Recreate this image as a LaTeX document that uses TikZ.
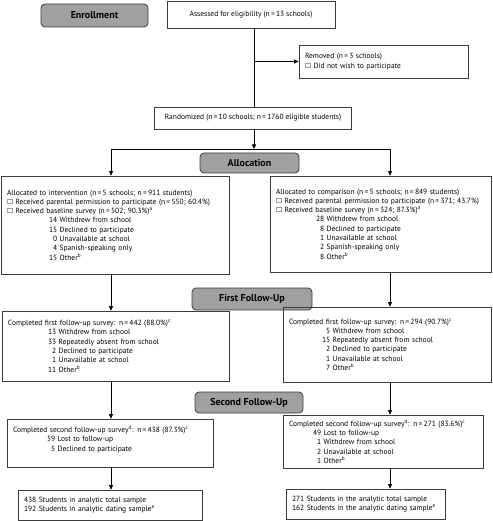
\documentclass[tikz,border=0pt]{standalone}
\usepackage{fontspec}
\setmainfont{PT Sans}
\newfontfamily\boxsym{DejaVu Sans}
\usetikzlibrary{arrows.meta}
\definecolor{stagegray}{RGB}{160,160,160}
\definecolor{edgegray}{RGB}{60,60,60}
\newcommand{\chk}{{\boxsym\fontsize{6.8}{6.8}\selectfont ☐}\ }
\newcommand{\gap}[1]{\hspace*{#1pt}}
\newcommand{\nd}{\phantom{1}}
\begin{document}
\begin{tikzpicture}[x=1pt, y=-1pt,
    infobox/.style={draw=edgegray, line width=0.7pt, align=left, inner xsep=6pt, inner ysep=2pt,
        font=\fontsize{7.5}{9.3}\selectfont},
    stage/.style={draw=edgegray, line width=0.8pt, rounded corners=4pt, fill=stagegray,
        font=\bfseries\fontsize{10}{11}\selectfont},
    arr/.style={line width=0.7pt, -{Triangle[length=4.5pt,width=4pt]}},
    link/.style={line width=0.7pt}]
    \useasboundingbox (0,0) rectangle (492,521);

    % Stage labels
    \node[stage, minimum width=107pt, minimum height=23pt] (enroll) at (94.5,15.5) {Enrollment};
    \node[stage, minimum width=99pt, minimum height=20pt] (alloc) at (249.5,163) {Allocation};
    \node[stage, minimum width=120pt, minimum height=22pt] (fu1) at (252,299) {First Follow-Up};
    \node[stage, minimum width=108pt, minimum height=21pt] (fu2) at (249,402.5) {Second Follow-Up};

    % Enrollment and randomization
    \node[infobox, align=center, minimum width=168pt, minimum height=27pt] (assess) at (251,14.5)
        {Assessed for eligibility (n\,=\,13 schools)};
    \node[infobox, text width=157pt, minimum height=33pt] (removed) at (383.5,61.5)
        {Removed (n\,=\,3 schools)\\
         \chk Did not wish to participate};
    \node[infobox, align=center, minimum width=197pt, minimum height=22pt] (rand) at (253,118)
        {Randomized (n\,=\,10 schools; n\,=\,1760 eligible students)};

    % Allocation
    \node[infobox, text width=216pt, minimum height=98pt] (intv) at (115,225)
        {Allocated to intervention (n\,=\,5 schools; n\,=\,911 students)\\
         \chk Received parental permission to participate (n\,=\,550; 60.4\%)\\
         \chk Received baseline survey (n\,=\,502; 90.3\%)\textsuperscript{a}\\
         \gap{42}14 Withdrew from school\\
         \gap{42}15 Declined to participate\\
         \gap{42}\nd0 Unavailable at school\\
         \gap{42}\nd4 Spanish-speaking only\\
         \gap{42}15 Other\textsuperscript{b}};
    \node[infobox, text width=209pt, minimum height=96pt] (comp) at (380.5,224)
        {Allocated to comparison (n\,=\,5 schools; n\,=\,849 students)\\
         \chk Received parental permission to participate (n\,=\,371; 43.7\%)\\
         \chk Received baseline survey (n\,=\,324; 87.3\%)\textsuperscript{a}\\
         \gap{40}28 Withdrew from school\\
         \gap{40}\nd8 Declined to participate\\
         \gap{40}\nd1 Unavailable at school\\
         \gap{40}\nd2 Spanish-speaking only\\
         \gap{40}\nd8 Other\textsuperscript{b}};

    % First follow-up
    \node[infobox, text width=215pt, minimum height=70pt] (fu1L) at (115.5,346)
        {Completed first follow-up survey: n\,=\,442 (88.0\%)\textsuperscript{c}\\
         \gap{40}13 Withdrew from school\\
         \gap{40}33 Repeatedly absent from school\\
         \gap{40}\nd2 Declined to participate\\
         \gap{40}\nd1 Unavailable at school\\
         \gap{40}11 Other\textsuperscript{b}};
    \node[infobox, text width=196pt, minimum height=75pt] (fu1R) at (387,344.5)
        {Completed first follow-up survey: n\,=\,294 (90.7\%)\textsuperscript{c}\\
         \gap{33}\nd5 Withdrew from school\\
         \gap{33}15 Repeatedly absent from school\\
         \gap{33}\nd2 Declined to participate\\
         \gap{33}\nd1 Unavailable at school\\
         \gap{33}\nd7 Other\textsuperscript{b}};

    % Second follow-up
    \node[infobox, text width=194pt, minimum height=48pt] (fu2L) at (110,443)
        {Completed second follow-up survey\textsuperscript{d}: n\,=\,438 (87.3\%)\textsuperscript{c}\\
         \gap{34}59 Lost to follow-up\\
         \gap{34}\nd5 Declined to participate\\
         \mbox{}};
    \node[infobox, text width=188pt, minimum height=53pt] (fu2R) at (383,441.5)
        {Completed second follow-up survey\textsuperscript{d}: n\,=\,271 (83.6\%)\textsuperscript{c}\\
         \gap{24}49 Lost to follow-up\\
         \gap{24}\nd1 Withdrew from school\\
         \gap{24}\nd2 Unavailable at school\\
         \gap{24}\nd1 Other\textsuperscript{b}};

    % Analytic samples
    \node[infobox, text width=172pt, minimum height=30pt] (finL) at (110,505)
        {438 Students in analytic total sample\\
         192 Students in analytic dating sample\textsuperscript{e}};
    \node[infobox, text width=147pt, minimum height=30pt] (finR) at (365.5,504)
        {271 Students in the analytic total sample\\
         162 Students in the analytic dating sample\textsuperscript{e}};

    % Connectors
    \coordinate (trunk) at (254,0);
    \coordinate (split) at (254,149);
    \coordinate (colL) at (111,0);
    \coordinate (colR) at (390,0);
    \draw[link] (trunk |- assess.south) -- (trunk |- rand.north);
    \draw[arr] (trunk |- removed.west) -- (removed.west);
    \draw[arr] (trunk |- rand.south) -- (split);
    \draw[arr] (split) -| (colL |- intv.north);
    \draw[arr] (split) -| (colR |- comp.north);
    \draw[arr] (colL |- intv.south) -- (colL |- fu1L.north);
    \draw[arr] (colR |- comp.south) -- (colR |- fu1R.north);
    \draw[arr] (colL |- fu1L.south) -- (colL |- fu2L.north);
    \draw[arr] (colR |- fu1R.south) -- (colR |- fu2R.north);
    \draw[arr] (colL |- fu2L.south) -- (colL |- finL.north);
    \draw[arr] (colR |- fu2R.south) -- (colR |- finR.north);
\end{tikzpicture}
\end{document}
